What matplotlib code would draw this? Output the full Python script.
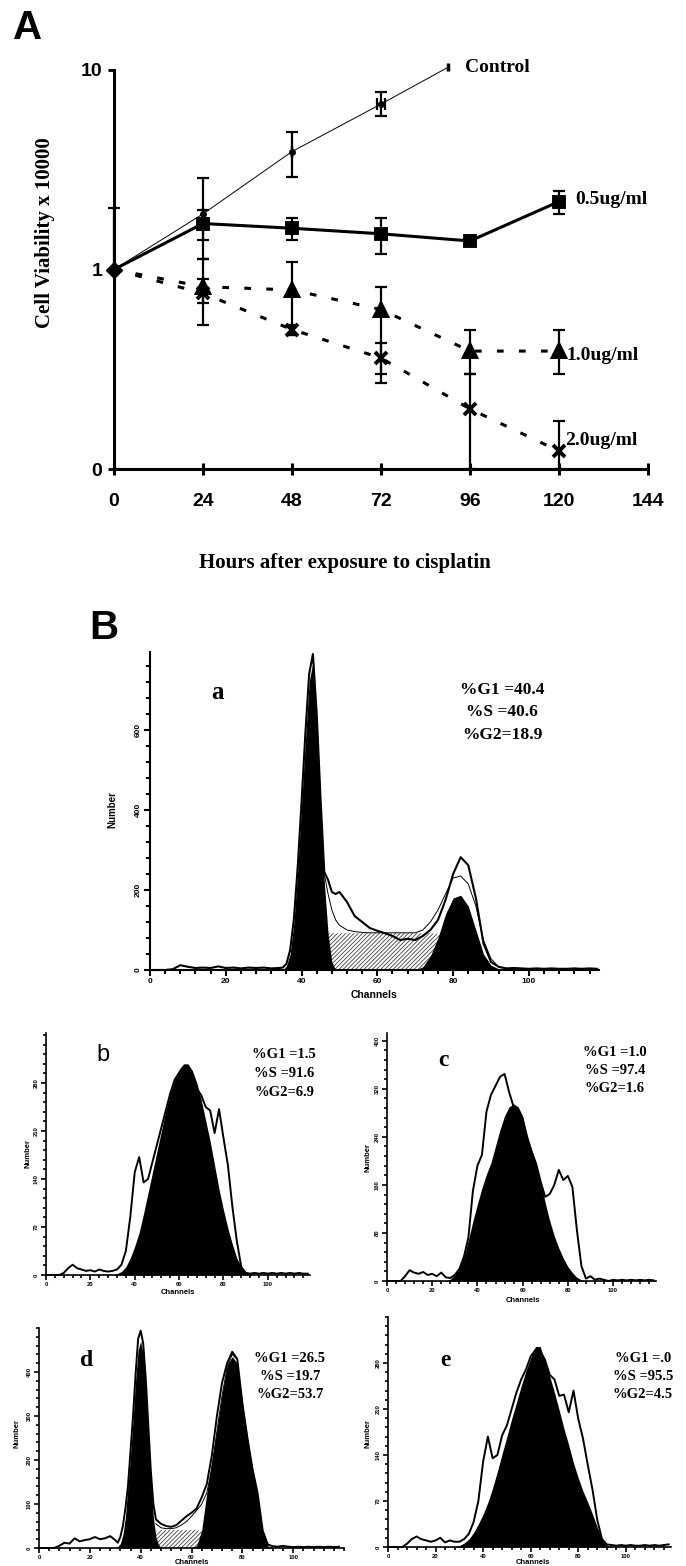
import numpy as np
import matplotlib
matplotlib.use('Agg')
import matplotlib.pyplot as plt
from matplotlib.ticker import MultipleLocator

# ---- panel A: cell viability (x 10000), log axis, "0" means 0.1
hours = [0, 24, 48, 72, 96, 120]
ctrl_hours = [0, 24, 48, 72, 90]
ctrl_val = [1.0, 1.9, 3.9, 6.75, 10.3]
ctrl_lo = [1.0, 1.40, 2.9, 5.85, 10.3]
ctrl_hi = [2.03, 2.87, 4.87, 7.79, 10.3]
ctrl_xerr = [0, 0, 0, 1.2, 0]

c05_val = [1.0, 1.70, 1.61, 1.51, 1.39, 2.19]
c05_lo = [1.0, 1.13, 1.40, 1.20, 1.34, 1.90]
c05_hi = [1.0, 1.98, 1.81, 1.81, 1.44, 2.48]

c10_val = [1.0, 0.82, 0.79, 0.63, 0.39, 0.39]
c10_lo = [1.0, 0.53, 0.47, 0.27, 0.30, 0.30]
c10_hi = [1.0, 1.13, 1.09, 0.82, 0.50, 0.50]

c20_val = [1.0, 0.76, 0.50, 0.36, 0.20, 0.123]
c20_lo = [1.0, 0.68, 0.47, 0.30, 0.10, 0.10]
c20_hi = [1.0, 0.90, 0.53, 0.43, 0.30, 0.174]

# ---- panel B histograms (channel, count)
a_ch = [0, 2, 4, 6, 8, 10, 12, 14, 16, 18, 20, 22, 24, 26, 28, 30, 32, 34,
        35, 36, 37, 38, 39, 40, 41, 42, 43, 44, 45, 46, 47, 48, 49, 50,
        52, 54, 56, 58, 60, 62, 64, 66, 68, 70, 72, 74, 76, 78, 80, 82, 84, 86,
        88, 90, 92, 94, 96, 98, 100, 102, 104, 106, 108, 110, 112, 114, 116, 118]
a_raw = [0, 0, 0, 2, 12, 8, 5, 6, 5, 9, 5, 6, 4, 6, 5, 6, 4, 5,
         6, 15, 50, 130, 260, 420, 590, 740, 790, 640, 430, 245, 225, 195, 190, 195,
         170, 135, 120, 105, 98, 92, 85, 75, 78, 75, 85, 100, 125, 175, 240, 282, 262, 180,
         67, 20, 8, 4, 5, 4, 3, 4, 3, 4, 3, 3, 4, 3, 4, 3]
a_fit_ch = [44, 45, 46, 47, 48, 49, 50, 52, 54, 56, 58, 60, 62, 64, 66, 68, 70,
            72, 74, 76, 78, 80, 82, 84, 86, 88, 90, 92, 94]
a_fit = [640, 420, 240, 190, 150, 125, 112, 100, 96, 94, 93, 93, 93, 93, 93, 93, 93,
         100, 120, 150, 190, 230, 235, 215, 160, 75, 28, 8, 4]
a_g1_ch = [35, 36, 37, 38, 39, 40, 41, 42, 43, 44, 45, 46, 47, 48, 49]
a_g1 = [0, 10, 40, 120, 250, 410, 570, 720, 770, 620, 400, 220, 90, 20, 0]
a_s_ch = [44, 45, 46, 47, 48, 50, 52, 54, 56, 58, 60, 62, 64, 66, 68, 70, 72, 74, 76, 78, 80, 82, 84]
a_s = [0, 40, 85, 92, 92, 92, 92, 92, 92, 92, 92, 92, 92, 92, 92, 92, 92, 92, 90, 80, 60, 30, 0]
a_g2_ch = [70, 72, 74, 76, 78, 80, 82, 84, 86, 88, 90, 92, 94]
a_g2 = [0, 8, 35, 80, 140, 180, 187, 160, 100, 40, 12, 3, 0]
a_stats = ['%G1 =40.4', '%S =40.6', '%G2=18.9']

bce_ch = list(range(0, 120, 2))
b_raw = [0, 0, 0, 0, 3, 10, 15, 10, 8, 6,
         7, 5, 8, 6, 5, 6, 8, 15, 35, 85,
         150, 172, 135, 140, 165, 190, 215, 240, 265, 285,
         295, 300, 298, 285, 272, 262, 245, 240, 207, 242,
         200, 160, 100, 50, 12, 3, 2, 3, 2, 3,
         2, 3, 2, 3, 2, 3, 2, 3, 2, 2]
b_fill_ch = list(range(30, 96, 2))
b_fill = [0, 2, 5, 12, 25, 42, 62, 90, 120, 150, 180, 210, 240, 265, 285,
          300, 308, 308, 298, 280, 255, 225, 195, 160, 125, 95, 68, 45, 25, 12, 5, 2, 0]
b_stats = ['%G1 =1.5', '%S =91.6', '%G2=6.9']

c_raw = [0, 0, 0, 0, 8, 18, 14, 12, 15, 10,
         12, 8, 14, 6, 5, 10, 20, 40, 72, 150,
         192, 210, 282, 310, 325, 340, 345, 315, 290, 280,
         270, 240, 215, 195, 165, 140, 145, 160, 185, 168,
         175, 157, 85, 25, 4, 8, 2, 4, 2, 0,
         2, 1, 2, 1, 2, 1, 2, 1, 2, 1]
c_fill_ch = list(range(26, 92, 2))
c_fill = [0, 3, 10, 22, 40, 68, 100, 128, 155, 178, 197, 225, 252, 275, 290,
          295, 290, 275, 240, 218, 195, 165, 130, 100, 75, 55, 38, 24, 14, 6, 2, 0, 0]
c_stats = ['%G1 =1.0', '%S =97.4', '%G2=1.6']

d_ch = [0, 2, 4, 6, 8, 10, 12, 14, 16, 18, 20, 22, 24, 26, 28, 30,
        31, 32, 33, 34, 35, 36, 37, 38, 39, 40, 41, 42, 43, 44, 45, 46, 47, 48,
        50, 52, 54, 56, 58, 60, 62, 64, 66, 68, 70, 72, 74, 76, 78, 80, 82, 84,
        86, 88, 90, 92, 94, 96, 98, 100, 102, 104, 106, 108, 110, 112, 114, 116, 118]
d_raw = [0, 0, 0, 0, 5, 12, 10, 22, 15, 18, 20, 25, 20, 22, 27, 18,
         12, 25, 50, 90, 140, 220, 300, 395, 475, 494, 465, 385, 280, 175, 100, 65, 60, 55,
         50, 48, 52, 62, 72, 80, 90, 115, 145, 210, 300, 375, 420, 446, 430, 330, 250, 180,
         125, 40, 8, 4, 3, 5, 3, 2, 3, 2, 3, 2, 3, 2, 3, 2, 3]
d_fit_ch = [46, 48, 50, 52, 54, 56, 58, 60, 62, 64, 66, 68, 70, 72, 74, 76, 78]
d_fit = [55, 46, 44, 44, 46, 52, 60, 72, 85, 100, 125, 180, 265, 345, 410, 440, 428]
d_g1_ch = list(range(30, 49))
d_g1 = [0, 3, 10, 30, 70, 140, 210, 290, 380, 450, 470, 440, 360, 250, 150, 70, 25, 8, 0]
d_s_ch = [44, 45, 46, 48, 50, 52, 54, 56, 58, 60, 62, 64, 66, 68]
d_s = [0, 20, 38, 41, 41, 41, 41, 41, 41, 41, 41, 38, 20, 0]
d_g2_ch = [60, 62, 64, 66, 68, 70, 72, 74, 76, 78, 80, 82, 84, 86, 88, 90, 92]
d_g2 = [0, 5, 40, 125, 200, 270, 350, 415, 435, 420, 330, 250, 180, 120, 40, 5, 0]
d_stats = ['%G1 =26.5', '%S =19.7', '%G2=53.7']

e_raw = [0, 0, 0, 0, 5, 12, 16, 12, 10, 8,
         10, 14, 7, 10, 8, 8, 12, 20, 38, 70,
         130, 168, 135, 140, 170, 185, 210, 235, 255, 270,
         290, 300, 298, 285, 262, 255, 230, 232, 205, 238,
         195, 165, 125, 87, 41, 12, 4, 3, 2, 3,
         2, 3, 2, 2, 3, 2, 3, 2, 3, 4]
e_fill_ch = list(range(28, 96, 2))
e_fill = [0, 2, 6, 12, 22, 35, 50, 68, 90, 115, 142, 168, 195, 220, 245, 268, 288,
          305, 305, 282, 260, 235, 208, 180, 155, 128, 105, 85, 68, 50, 30, 12, 3, 0]
e_stats = ['%G1 =.0', '%S =95.5', '%G2=4.5']

SERIF = ['Liberation Serif', 'DejaVu Serif']
SANS = ['Liberation Sans', 'DejaVu Sans']
NARROW = ['Liberation Sans Narrow', 'Liberation Sans', 'DejaVu Sans']
plt.rcParams['hatch.linewidth'] = 0.6

W, H = 686, 1566
fig = plt.figure(figsize=(W / 100, H / 100), dpi=100)


def rect(x0, y0, x1, y1):
    return [x0 / W, 1 - y1 / H, (x1 - x0) / W, (y1 - y0) / H]


def ftext(x, y, s, **kw):
    kw.setdefault('ha', 'center')
    kw.setdefault('va', 'center')
    fig.text(x / W, 1 - y / H, s, **kw)


# ================= panel A =================
ax = fig.add_axes(rect(114, 70, 648, 469))
ax.set_yscale('log')
ax.set_ylim(0.1, 10)
ax.set_xlim(0, 144)
for s in ['top', 'right']:
    ax.spines[s].set_visible(False)
for s in ['left', 'bottom']:
    ax.spines[s].set_linewidth(2.2)
ax.set_xticks(range(0, 145, 24))
ax.set_yticks([0.1, 1, 10])
ax.set_yticklabels(['0', '1', '10'])
ax.yaxis.set_minor_locator(plt.NullLocator())
ax.tick_params(axis='x', direction='inout', length=9, width=2.2, pad=13, labelsize=14)
ax.tick_params(axis='y', direction='out', length=4.5, width=2, pad=4, labelsize=14)
for lbl in ax.get_xticklabels() + ax.get_yticklabels():
    lbl.set_fontfamily(NARROW)
    lbl.set_fontweight('bold')

ebkw = dict(fmt='none', ecolor='k', elinewidth=1.6, capsize=4.5, capthick=1.6, clip_on=False, zorder=2)

# control
ax.plot(ctrl_hours, ctrl_val, color='k', lw=0.7, zorder=3, clip_on=False)
ax.plot(ctrl_hours[1:-1], ctrl_val[1:-1], 'o', color='k', ms=4, zorder=4)
ax.plot(ctrl_hours[-1:], ctrl_val[-1:], '|', color='k', ms=6, mew=2.5, clip_on=False)
ax.errorbar(ctrl_hours[:-1], ctrl_val[:-1],
            yerr=[np.subtract(ctrl_val, ctrl_lo)[:-1], np.subtract(ctrl_hi, ctrl_val)[:-1]],
            xerr=ctrl_xerr[:-1], **ebkw)

dash = (0, (2.2, 5.0))
for vals, lo, hi, ls, mk, ms in [(c05_val, c05_lo, c05_hi, '-', 's', 7),
                                 (c10_val, c10_lo, c10_hi, dash, '^', 8),
                                 (c20_val, c20_lo, c20_hi, dash, 'x', 8)]:
    ax.plot(hours, vals, color='k', lw=2.2, linestyle=ls, zorder=3, clip_on=False)
    ax.plot(hours[1:], vals[1:], mk, color='k', ms=ms, mew=2.8, zorder=4, clip_on=False)
    ax.errorbar(hours, vals, yerr=[np.subtract(vals, lo), np.subtract(hi, vals)], **ebkw)
ax.plot(hours[:1], c05_val[:1], 'D', color='k', ms=8, zorder=5, clip_on=False)

ftext(28, 28, 'A', fontsize=29, fontweight='bold', family=SANS)
ftext(45, 233, 'Cell Viability x 10000', rotation=90, fontsize=15, fontweight='bold', family=SERIF)
ftext(345, 563, 'Hours after exposure to cisplatin', fontsize=15, fontweight='bold', family=SERIF)
lab = dict(ha='left', fontsize=14, fontweight='bold', family=SERIF)
ftext(465, 67, 'Control', **lab)
ftext(575, 200, '0.5ug/ml', **lab)
ftext(566, 355, '1.0ug/ml', **lab)
ftext(565, 440, '2.0ug/ml', **lab)

# ================= panel B =================
ftext(104, 628, 'B', fontsize=29, fontweight='bold', family=SANS)


def hist_axes(box, xmax, ymax, yticks, yminor, lw, fs, tl):
    h = fig.add_axes(rect(*box))
    h.set_xlim(0, xmax)
    h.set_ylim(0, ymax)
    for s in ['top', 'right']:
        h.spines[s].set_visible(False)
    for s in ['left', 'bottom']:
        h.spines[s].set_linewidth(lw)
    h.set_xticks([0, 20, 40, 60, 80, 100])
    h.set_xticklabels(['0', '20', '40', '60', '80', '100'], fontweight='bold', family=SANS)
    h.xaxis.set_minor_locator(MultipleLocator(4))
    h.set_yticks(yticks)
    h.set_yticklabels([str(t) for t in yticks], rotation=90, va='center',
                      fontweight='bold', family=SANS)
    h.yaxis.set_minor_locator(MultipleLocator(yminor))
    h.tick_params(which='major', direction='out', length=tl, width=lw, labelsize=fs, pad=1.5)
    h.tick_params(which='minor', direction='out', length=tl * 0.6, width=lw)
    return h


def draw_hist(h, ch, raw, fills, s_ch=None, s_vals=None, fit_ch=None, fit=None, lw=1.4):
    if s_ch is not None:
        h.fill_between(s_ch, s_vals, facecolor='white', edgecolor='0.25', hatch='////////',
                       linewidth=0, zorder=1)
    h.plot(ch, raw, color='k', lw=lw, zorder=2, clip_on=False)
    if fit_ch is not None:
        h.plot(fit_ch, fit, color='k', lw=0.7, zorder=2)
    for fc, fv in fills:
        h.fill_between(fc, fv, color='k', linewidth=0, zorder=3)


def stats(x, y, lines, dy, fs):
    for i, t in enumerate(lines):
        ftext(x, y + i * dy, t, fontsize=fs, fontweight='bold', family=SERIF)


# a
h = hist_axes((150, 652, 599, 970), 118.5, 795, [0, 200, 400, 600], 40, 1.5, 6, 4.5)
draw_hist(h, a_ch, a_raw, [(a_g1_ch, a_g1), (a_g2_ch, a_g2)], a_s_ch, a_s, a_fit_ch, a_fit, lw=1.5)
ftext(218, 693, 'a', fontsize=18, fontweight='bold', family=SERIF)
stats(502, 690, a_stats, 22.5, 12.5)
ftext(112, 810, 'Number', rotation=90, fontsize=7, fontweight='bold', family=SANS)
ftext(374, 995, 'Channels', fontsize=7.5, fontweight='bold', family=SANS)

# b
h = hist_axes((46, 1033, 310, 1275), 119, 353, [0, 70, 140, 210, 280], 14, 1.2, 4.2, 3.5)
draw_hist(h, bce_ch, b_raw, [(b_fill_ch, b_fill)])
ftext(103, 1055, 'b', fontsize=17, family=SANS)
stats(284, 1055, b_stats, 18.5, 10.5)
ftext(28, 1153, 'Number', rotation=90, fontsize=5.5, fontweight='bold', family=SANS)
ftext(178, 1293, 'Channels', fontsize=5.5, fontweight='bold', family=SANS)

# c
h = hist_axes((387, 1033, 656, 1281), 119, 413, [0, 80, 160, 240, 320, 400], 16, 1.2, 4.2, 3.5)
draw_hist(h, bce_ch, c_raw, [(c_fill_ch, c_fill)])
ftext(443, 1060, 'c', fontsize=17, fontweight='bold', family=SERIF)
stats(615, 1052, c_stats, 18.5, 10.5)
ftext(368, 1157, 'Number', rotation=90, fontsize=5.5, fontweight='bold', family=SANS)
ftext(523, 1300, 'Channels', fontsize=5.5, fontweight='bold', family=SANS)

# d
h = hist_axes((39, 1328, 344, 1548), 120, 500, [0, 100, 200, 300, 400], 20, 1.2, 4.2, 3.5)
draw_hist(h, d_ch, d_raw, [(d_g1_ch, d_g1), (d_g2_ch, d_g2)], d_s_ch, d_s, d_fit_ch, d_fit)
ftext(87, 1360, 'd', fontsize=17, fontweight='bold', family=SERIF)
stats(290, 1358, d_stats, 18.5, 10.5)
ftext(17, 1433, 'Number', rotation=90, fontsize=5.5, fontweight='bold', family=SANS)
ftext(192, 1563, 'Channels', fontsize=5.5, fontweight='bold', family=SANS)

# e
h = hist_axes((388, 1317, 671, 1547), 119, 350, [0, 70, 140, 210, 280], 14, 1.2, 4.2, 3.5)
draw_hist(h, bce_ch, e_raw, [(e_fill_ch, e_fill)])
ftext(445, 1360, 'e', fontsize=17, fontweight='bold', family=SERIF)
stats(643, 1358, e_stats, 18.5, 10.5)
ftext(368, 1433, 'Number', rotation=90, fontsize=5.5, fontweight='bold', family=SANS)
ftext(533, 1563, 'Channels', fontsize=5.5, fontweight='bold', family=SANS)

fig.savefig('out.png', dpi=100)
